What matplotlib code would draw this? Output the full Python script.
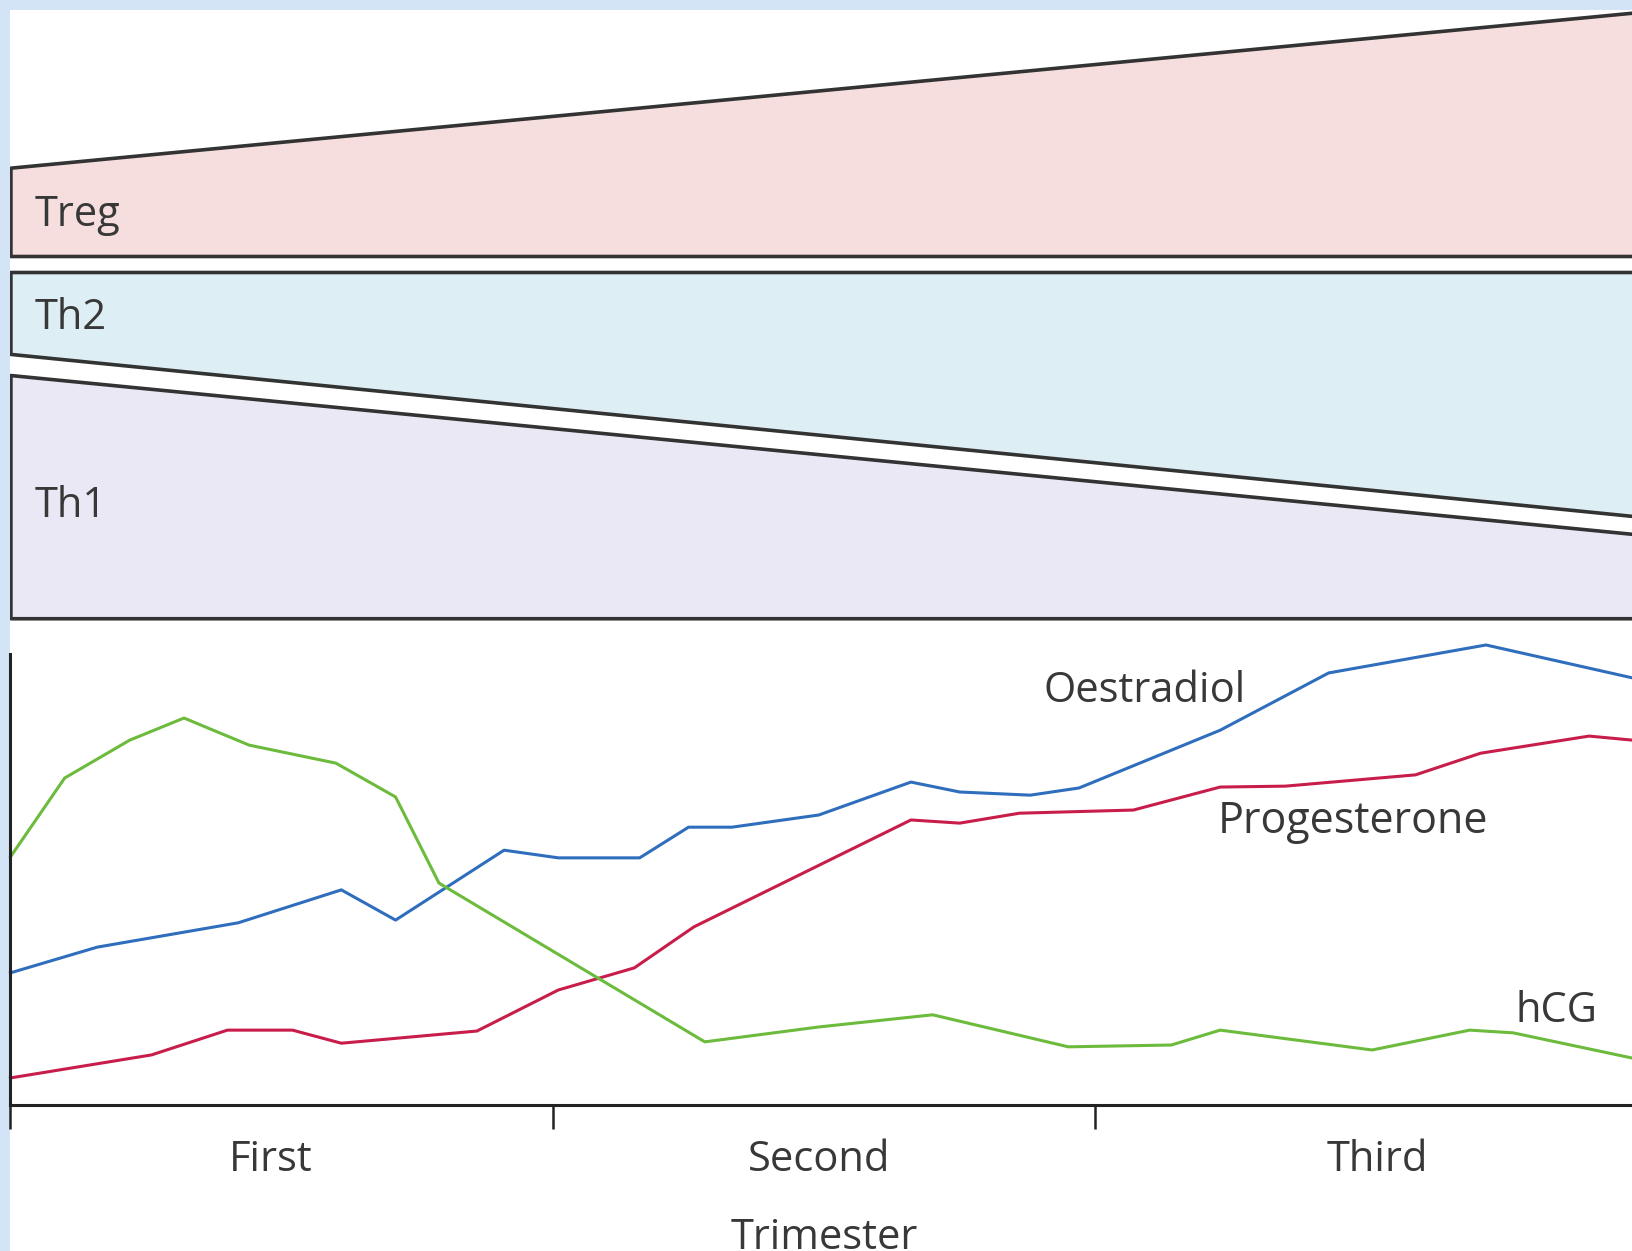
import matplotlib.pyplot as plt
from matplotlib.patches import Rectangle

plt.rcParams['font.family'] = ['Open Sans', 'DejaVu Sans']

# trimester scale: 0 = start of first trimester, 3 = end of third
trimesters = ['First', 'Second', 'Third']

# T-cell bands (relative level, left end / right end)
treg_top = [73.8, 98.1]
treg_bottom = [60.0, 60.0]
th2_top = [57.5, 57.5]
th2_bottom = [44.7, 19.3]
th1_top = [41.4, 16.5]
th1_bottom = [3.4, 3.4]
band_x = [0, 3]

# hormone curves (relative level)
oes_x = [0.0, 0.16, 0.42, 0.61, 0.71, 0.91, 1.01, 1.16, 1.25, 1.33, 1.49,
         1.66, 1.75, 1.88, 1.97, 2.23, 2.43, 2.72, 2.99]
oes_y = [29.3, 35.0, 40.4, 47.7, 41.0, 56.5, 54.8, 54.8, 61.6, 61.6, 64.3,
         71.6, 69.4, 68.7, 70.3, 83.1, 95.8, 102.0, 94.7]

prog_x = [0.0, 0.26, 0.40, 0.52, 0.61, 0.86, 1.01, 1.15, 1.26, 1.66, 1.75,
          1.86, 2.07, 2.23, 2.35, 2.59, 2.71, 2.91, 2.99]
prog_y = [6.0, 11.1, 16.6, 16.6, 13.7, 16.4, 25.5, 30.4, 39.5, 63.2, 62.5,
          64.7, 65.4, 70.5, 70.7, 73.2, 78.0, 81.8, 80.9]

hcg_x = [0.0, 0.10, 0.22, 0.32, 0.44, 0.60, 0.71, 0.79, 1.28, 1.49, 1.70,
         1.95, 2.14, 2.23, 2.51, 2.69, 2.77, 2.99]
hcg_y = [55.0, 72.5, 80.9, 85.8, 79.8, 75.8, 68.3, 49.2, 14.0, 17.3, 20.0,
         12.9, 13.3, 16.6, 12.2, 16.6, 16.0, 10.4]

W, H = 1632, 1251
fig = plt.figure(figsize=(W / 100, H / 100), dpi=100, facecolor='#d3e4f6')
# white page area (light blue strip left and top)
fig.patches.append(Rectangle((10.4 / W, 0), 1, 1 - 10 / H, transform=fig.transFigure,
                             facecolor='white', edgecolor='none', zorder=-5))

ax_left = 10.4 / W
ax_width = 3 * 542.5 / W
edge = '#333333'
txt = '#383838'

# ---- top: T-cell bands
ax1 = fig.add_axes([ax_left, 1 - 640 / H, ax_width, 640 / H])
ax1.set_xlim(0, 3)
ax1.set_ylim(0, 100)
ax1.axis('off')
ax1.fill_between(band_x, treg_bottom, treg_top, facecolor='#f5dedd', edgecolor=edge, lw=2.6)
ax1.fill_between(band_x, th2_bottom, th2_top, facecolor='#ddeff4', edgecolor=edge, lw=2.6)
ax1.fill_between(band_x, th1_bottom, th1_top, facecolor='#ebe8f5', edgecolor=edge, lw=2.6)
ax1.text(0.045, 66.4, 'Treg', fontsize=30, color=txt, va='center')
ax1.text(0.045, 50.3, 'Th2', fontsize=30, color=txt, va='center')
ax1.text(0.045, 20.9, 'Th1', fontsize=30, color=txt, va='center')

# ---- bottom: hormones
yscale = 4.51  # px per unit
ax2 = fig.add_axes([ax_left, 1 - 1105 / H, ax_width, 106 * yscale / H])
ax2.set_xlim(0, 3)
ax2.set_ylim(0, 106)
ax2.patch.set_alpha(0)
ax2.plot(oes_x, oes_y, color='#2f6dbd', lw=2.2, clip_on=False)
ax2.plot(prog_x, prog_y, color='#c81d4b', lw=2.2, clip_on=False)
ax2.plot(hcg_x, hcg_y, color='#6cbb3c', lw=2.2, clip_on=False)
ax2.text(2.09, 91.8, 'Oestradiol', fontsize=30, color=txt, ha='center', va='center')
ax2.text(2.475, 62.8, 'Progesterone', fontsize=31, color=txt, ha='center', va='center')
ax2.text(2.85, 20.8, 'hCG', fontsize=30, color=txt, ha='center', va='center')

for s in ['top', 'right']:
    ax2.spines[s].set_visible(False)
ax2.spines['left'].set_bounds(0, 100)
ax2.spines['left'].set_linewidth(2.2)
ax2.spines['bottom'].set_linewidth(2.2)
ax2.spines['left'].set_color('#222222')
ax2.spines['bottom'].set_color('#222222')
ax2.set_yticks([])
ax2.set_xticks([0, 1, 2, 3])
ax2.set_xticklabels([])
ax2.tick_params(axis='x', which='major', direction='out', length=17, width=1.8, color='#222222')
ax2.set_xticks([0.48, 1.49, 2.52], minor=True)
ax2.set_xticklabels(trimesters, minor=True)
ax2.tick_params(axis='x', which='minor', length=0, pad=24.5, labelsize=30, labelcolor=txt)
ax2.set_xlabel('Trimester', fontsize=30, color=txt, labelpad=26)

fig.savefig('out.png', dpi=100, facecolor=fig.get_facecolor())
